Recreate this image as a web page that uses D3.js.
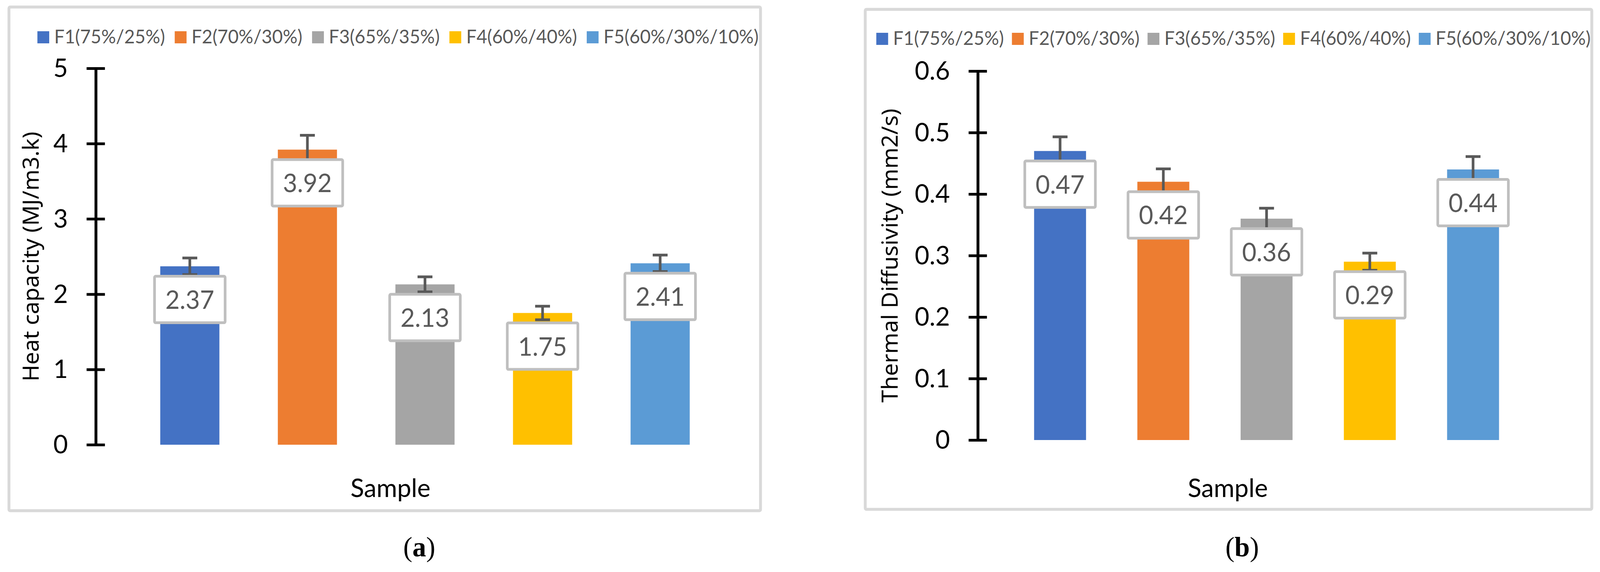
<!DOCTYPE html>
<html>
<head>
<meta charset="utf-8">
<script src="https://cdn.jsdelivr.net/npm/d3@7"></script>
<style>
  html, body { margin: 0; padding: 0; background: #ffffff; overflow: hidden; }
  svg { display: block; }
</style>
</head>
<body>
<svg id="chart"></svg>
<script>
// ---------------- DATA ----------------
const samples = ["F1", "F2", "F3", "F4", "F5"];
const legendLabels = ["F1(75%/25%)", "F2(70%/30%)", "F3(65%/35%)", "F4(60%/40%)", "F5(60%/30%/10%)"];
const seriesColors = ["#4472C4", "#ED7D31", "#A5A5A5", "#FFC000", "#5B9BD5"];

const heatCapacity = [2.37, 3.92, 2.13, 1.75, 2.41];
const heatCapacityError = [0.11, 0.19, 0.10, 0.09, 0.11];
const heatCapacityTicks = [0, 1, 2, 3, 4, 5];

const diffusivity = [0.47, 0.42, 0.36, 0.29, 0.44];
const diffusivityError = [0.023, 0.021, 0.017, 0.014, 0.021];
const diffusivityTicks = [0, 0.1, 0.2, 0.3, 0.4, 0.5, 0.6];

const yTitles = ["Heat capacity (MJ/m3.k)", "Thermal Diffusivity (mm2/s)"];
const xTitle = "Sample";
const captions = ["a", "b"];

// ---------------- LAYOUT ----------------
const W = 4194, H = 1465;
const panels = [
  {
    values: heatCapacity, errors: heatCapacityError, ticks: heatCapacityTicks,
    domain: [0, 5], yRange: [1139, 175], xRange: [343, 1885], axisX: 251,
    box: [23.5, 18, 1993.5, 1308],
    legendX: 98, legendTop: 80, legendStep: 360,
    titleX: 101, title: yTitles[0], sampleX: 1023.5, captionX: 1099, caption: captions[0]
  },
  {
    values: diffusivity, errors: diffusivityError, ticks: diffusivityTicks,
    domain: [0, 0.6], yRange: [1127, 182], xRange: [2643, 3997], axisX: 2563,
    box: [2268, 24, 4172.5, 1304.5],
    legendX: 2297, legendTop: 84, legendStep: 355.5,
    titleX: 2353, title: yTitles[1], sampleX: 3218.5, captionX: 3256, caption: captions[1]
  }
];

// fit the full 4194-wide drawing into whatever width the viewport really has
const vw = Math.max(1, window.innerWidth || W);
const svg = d3.select("#chart")
  .attr("width", vw).attr("height", H)
  .attr("viewBox", `0 0 ${W} ${H}`)
  .attr("preserveAspectRatio", "none");

svg.append("rect").attr("x", 0).attr("y", 0).attr("width", W).attr("height", H).attr("fill", "#ffffff");

const CAL = "Lato, 'Open Sans', sans-serif";
const fmt = d3.format(".2f");

panels.forEach(p => {
  const g = svg.append("g");

  // chart area border
  g.append("rect")
    .attr("x", p.box[0]).attr("y", p.box[1])
    .attr("width", p.box[2] - p.box[0]).attr("height", p.box[3] - p.box[1])
    .attr("rx", 3).attr("fill", "#ffffff")
    .attr("stroke", "#D9D9D9").attr("stroke-width", 7.5);

  const y = d3.scaleLinear().domain(p.domain).range(p.yRange);
  const x = d3.scaleBand().domain(samples).range(p.xRange).paddingInner(0.497).paddingOuter(0.25);

  // legend
  const lg = g.append("g");
  legendLabels.forEach((lab, i) => {
    const lx = p.legendX + i * p.legendStep;
    lg.append("rect").attr("x", lx).attr("y", p.legendTop).attr("width", 31).attr("height", 31)
      .attr("fill", seriesColors[i]);
    lg.append("text").attr("x", lx + 44).attr("y", p.legendTop + 31)
      .attr("font-family", CAL).attr("font-size", 48).attr("fill", "#595959")
      .text(lab);
  });

  // y axis with cross ticks
  const axis = d3.axisLeft(y).tickValues(p.ticks).tickSize(24).tickPadding(49).tickSizeOuter(0)
    .tickFormat(d => String(d));
  const ag = g.append("g").attr("transform", `translate(${p.axisX},0)`).call(axis);
  ag.select(".domain").attr("stroke", "#000").attr("stroke-width", 7.5);
  ag.selectAll(".tick line").attr("x1", 24).attr("stroke", "#000").attr("stroke-width", 7);
  ag.selectAll(".tick text")
    .attr("font-family", CAL).attr("font-size", 66).attr("fill", "#000").attr("dy", "0.33em");

  // bars
  g.selectAll(".bar").data(p.values).enter().append("rect")
    .attr("x", (d, i) => x(samples[i]))
    .attr("y", d => y(d))
    .attr("width", x.bandwidth())
    .attr("height", d => y(0) - y(d))
    .attr("fill", (d, i) => seriesColors[i]);

  // error bars
  const eg = g.append("g").attr("stroke", "#595959").attr("stroke-width", 7);
  p.values.forEach((v, i) => {
    const cx = x(samples[i]) + x.bandwidth() / 2;
    const e = p.errors[i];
    eg.append("line").attr("x1", cx).attr("x2", cx).attr("y1", y(v + e)).attr("y2", y(v - e));
    [v + e, v - e].forEach(t => {
      eg.append("line").attr("x1", cx - 19.5).attr("x2", cx + 19.5).attr("y1", y(t)).attr("y2", y(t));
    });
  });

  // data label boxes
  p.values.forEach((v, i) => {
    const cx = x(samples[i]) + x.bandwidth() / 2;
    const cy = y(v) + 85;
    g.append("rect")
      .attr("x", cx - 92.5).attr("y", cy - 59.5).attr("width", 185).attr("height", 119)
      .attr("rx", 3).attr("fill", "#ffffff").attr("stroke", "#BFBFBF").attr("stroke-width", 7);
    g.append("text").attr("x", cx).attr("y", cy + 24)
      .attr("text-anchor", "middle")
      .attr("font-family", CAL).attr("font-size", 65).attr("fill", "#595959")
      .text(fmt(v));
  });

  // y axis title
  const cyMid = (p.yRange[0] + p.yRange[1]) / 2;
  g.append("text")
    .attr("transform", `translate(${p.titleX},${cyMid}) rotate(-90)`)
    .attr("text-anchor", "middle")
    .attr("font-family", "'Noto Sans', 'Open Sans', sans-serif").attr("font-size", 58).attr("fill", "#000")
    .text(p.title);

  // x axis title
  g.append("text").attr("x", p.sampleX).attr("y", 1273)
    .attr("text-anchor", "middle")
    .attr("font-family", CAL).attr("font-size", 66).attr("fill", "#000")
    .text(xTitle);

  // caption
  const cap = g.append("text").attr("x", p.captionX).attr("y", 1425)
    .attr("text-anchor", "middle")
    .attr("font-family", "'Liberation Serif', 'DejaVu Serif', serif").attr("font-size", 72).attr("fill", "#000");
  cap.append("tspan").text("(");
  cap.append("tspan").attr("font-weight", "bold").text(p.caption);
  cap.append("tspan").text(")");
});
</script>
</body>
</html>
